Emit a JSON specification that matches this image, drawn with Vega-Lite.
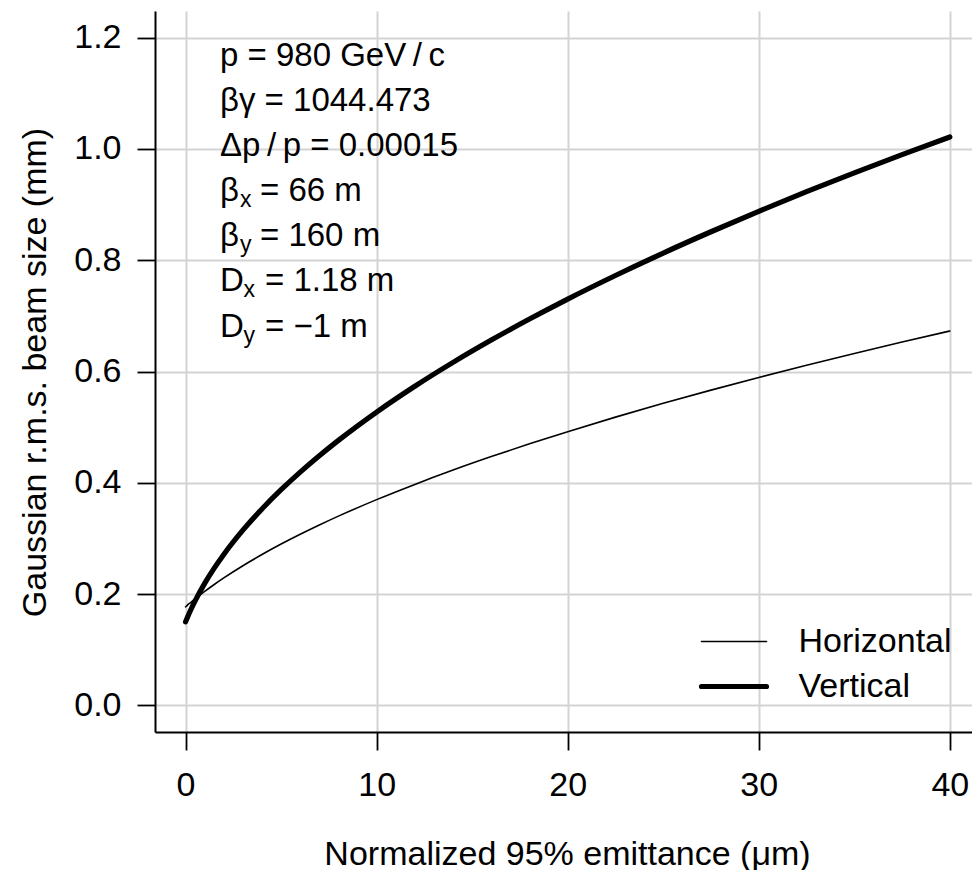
{
  "$schema": "https://vega.github.io/schema/vega-lite/v6.json",
  "autosize": {"type": "none"},
  "padding": {"left": 155, "top": 11, "right": 0, "bottom": 138},
  "width": 817,
  "height": 721,
  "config": {
    "font": "Liberation Sans",
    "view": {"stroke": null},
    "axis": {
      "grid": true,
      "gridColor": "#d3d3d3",
      "gridWidth": 2,
      "domainColor": "black",
      "domainWidth": 2,
      "tickColor": "black",
      "tickWidth": 1.8,
      "tickSize": 18,
      "labelFont": "Liberation Sans",
      "labelFontSize": 34,
      "labelColor": "black",
      "labelFlush": false,
      "labelOverlap": false,
      "titleFont": "Liberation Sans",
      "titleFontSize": 34,
      "titleFontWeight": "normal",
      "titleColor": "black"
    }
  },
  "datasets": {
    "curves": [
      {"e": 0, "s": 0.1770, "series": "Horizontal"},
      {"e": 0.1, "s": 0.1800, "series": "Horizontal"},
      {"e": 0.25, "s": 0.1843, "series": "Horizontal"},
      {"e": 0.5, "s": 0.1913, "series": "Horizontal"},
      {"e": 1, "s": 0.2046, "series": "Horizontal"},
      {"e": 1.5, "s": 0.2171, "series": "Horizontal"},
      {"e": 2, "s": 0.2289, "series": "Horizontal"},
      {"e": 3, "s": 0.2509, "series": "Horizontal"},
      {"e": 4, "s": 0.2710, "series": "Horizontal"},
      {"e": 5, "s": 0.2898, "series": "Horizontal"},
      {"e": 6, "s": 0.3074, "series": "Horizontal"},
      {"e": 7, "s": 0.3241, "series": "Horizontal"},
      {"e": 8, "s": 0.3400, "series": "Horizontal"},
      {"e": 10, "s": 0.3697, "series": "Horizontal"},
      {"e": 12, "s": 0.3971, "series": "Horizontal"},
      {"e": 14, "s": 0.4228, "series": "Horizontal"},
      {"e": 16, "s": 0.4470, "series": "Horizontal"},
      {"e": 18, "s": 0.4700, "series": "Horizontal"},
      {"e": 20, "s": 0.4919, "series": "Horizontal"},
      {"e": 22.5, "s": 0.5180, "series": "Horizontal"},
      {"e": 25, "s": 0.5428, "series": "Horizontal"},
      {"e": 27.5, "s": 0.5665, "series": "Horizontal"},
      {"e": 30, "s": 0.5893, "series": "Horizontal"},
      {"e": 32.5, "s": 0.6113, "series": "Horizontal"},
      {"e": 35, "s": 0.6324, "series": "Horizontal"},
      {"e": 37.5, "s": 0.6529, "series": "Horizontal"},
      {"e": 40, "s": 0.6728, "series": "Horizontal"},
      {"e": 0, "s": 0.1500, "series": "Vertical"},
      {"e": 0.1, "s": 0.1583, "series": "Vertical"},
      {"e": 0.25, "s": 0.1700, "series": "Vertical"},
      {"e": 0.5, "s": 0.1878, "series": "Vertical"},
      {"e": 1, "s": 0.2192, "series": "Vertical"},
      {"e": 1.5, "s": 0.2466, "series": "Vertical"},
      {"e": 2, "s": 0.2712, "series": "Vertical"},
      {"e": 3, "s": 0.3148, "series": "Vertical"},
      {"e": 4, "s": 0.3530, "series": "Vertical"},
      {"e": 5, "s": 0.3875, "series": "Vertical"},
      {"e": 6, "s": 0.4192, "series": "Vertical"},
      {"e": 7, "s": 0.4486, "series": "Vertical"},
      {"e": 8, "s": 0.4762, "series": "Vertical"},
      {"e": 10, "s": 0.5271, "series": "Vertical"},
      {"e": 12, "s": 0.5735, "series": "Vertical"},
      {"e": 14, "s": 0.6164, "series": "Vertical"},
      {"e": 16, "s": 0.6565, "series": "Vertical"},
      {"e": 18, "s": 0.6943, "series": "Vertical"},
      {"e": 20, "s": 0.7302, "series": "Vertical"},
      {"e": 22.5, "s": 0.7726, "series": "Vertical"},
      {"e": 25, "s": 0.8129, "series": "Vertical"},
      {"e": 27.5, "s": 0.8512, "series": "Vertical"},
      {"e": 30, "s": 0.8879, "series": "Vertical"},
      {"e": 32.5, "s": 0.9232, "series": "Vertical"},
      {"e": 35, "s": 0.9571, "series": "Vertical"},
      {"e": 37.5, "s": 0.9899, "series": "Vertical"},
      {"e": 40, "s": 1.0216, "series": "Vertical"}
    ],
    "notes": [
      {"e": 1.8, "s": 1.149, "kind": "plain", "main": "p = 980 GeV\u2009/\u2009c", "sub": "", "rest": ""},
      {"e": 1.8, "s": 1.068, "kind": "plain", "main": "βγ = 1044.473", "sub": "", "rest": ""},
      {"e": 1.8, "s": 0.987, "kind": "plain", "main": "Δp\u2009/\u2009p = 0.00015", "sub": "", "rest": ""},
      {"e": 1.8, "s": 0.906, "kind": "beta", "main": "β", "sub": "x", "rest": "= 66 m"},
      {"e": 1.8, "s": 0.825, "kind": "beta", "main": "β", "sub": "y", "rest": "= 160 m"},
      {"e": 1.8, "s": 0.744, "kind": "D", "main": "D", "sub": "x", "rest": "= 1.18 m"},
      {"e": 1.8, "s": 0.662, "kind": "D", "main": "D", "sub": "y", "rest": "= −1 m"}
    ]
  },
  "layer": [
    {
      "data": {"name": "curves"},
      "mark": {"type": "line", "color": "black", "interpolate": "monotone", "strokeCap": "round", "strokeJoin": "round"},
      "encoding": {
        "x": {
          "field": "e", "type": "quantitative",
          "scale": {"domain": [-1.6, 41.16], "nice": false, "zero": false},
          "axis": {
            "title": "Normalized 95% emittance (μm)",
            "values": [0, 10, 20, 30, 40],
            "format": "d",
            "labelPadding": 18,
            "titleX": 412,
            "titleY": 132,
            "titleBaseline": "alphabetic",
            "titleAlign": "center"
          }
        },
        "y": {
          "field": "s", "type": "quantitative",
          "scale": {"domain": [-0.048, 1.248], "nice": false, "zero": false},
          "axis": {
            "title": "Gaussian r.m.s. beam size (mm)",
            "values": [0, 0.2, 0.4, 0.6, 0.8, 1.0, 1.2],
            "format": ".1f",
            "labelPadding": 16,
            "titleX": -110,
            "titleY": 361,
            "titleAngle": 270,
            "titleBaseline": "alphabetic",
            "titleAlign": "center"
          }
        },
        "strokeWidth": {
          "field": "series", "type": "ordinal",
          "scale": {"domain": ["Horizontal", "Vertical"], "range": [1.6, 5.2]},
          "legend": {
            "title": null,
            "orient": "none",
            "legendX": 543.5,
            "legendY": 608,
            "symbolType": "stroke",
            "symbolSize": 4225,
            "symbolStrokeColor": "black",
            "labelFont": "Liberation Sans",
            "labelFontSize": 34,
            "labelColor": "black",
            "labelOffset": 29,
            "labelLimit": 400,
            "clipHeight": 45,
            "rowPadding": 0,
            "padding": 0,
            "encode": {"symbols": {"update": {"strokeCap": {"value": "round"}}}}
          }
        }
      }
    },
    {
      "mark": {"type": "rule", "color": "black", "strokeWidth": 2},
      "encoding": {"y": {"datum": 1.248}}
    },
    {
      "data": {"name": "notes"},
      "mark": {"type": "text", "align": "left", "baseline": "alphabetic", "fontSize": 33, "font": "Liberation Sans", "color": "black"},
      "encoding": {
        "x": {"field": "e", "type": "quantitative"},
        "y": {"field": "s", "type": "quantitative"},
        "text": {"field": "main"}
      }
    },
    {
      "data": {"name": "notes"},
      "transform": [{"filter": "datum.kind === 'beta'"}],
      "mark": {"type": "text", "align": "left", "baseline": "alphabetic", "fontSize": 23, "font": "Liberation Sans", "color": "black", "dx": 20, "dy": 6},
      "encoding": {
        "x": {"field": "e", "type": "quantitative"},
        "y": {"field": "s", "type": "quantitative"},
        "text": {"field": "sub"}
      }
    },
    {
      "data": {"name": "notes"},
      "transform": [{"filter": "datum.kind === 'beta'"}],
      "mark": {"type": "text", "align": "left", "baseline": "alphabetic", "fontSize": 33, "font": "Liberation Sans", "color": "black", "dx": 40},
      "encoding": {
        "x": {"field": "e", "type": "quantitative"},
        "y": {"field": "s", "type": "quantitative"},
        "text": {"field": "rest"}
      }
    },
    {
      "data": {"name": "notes"},
      "transform": [{"filter": "datum.kind === 'D'"}],
      "mark": {"type": "text", "align": "left", "baseline": "alphabetic", "fontSize": 23, "font": "Liberation Sans", "color": "black", "dx": 23.5, "dy": 6},
      "encoding": {
        "x": {"field": "e", "type": "quantitative"},
        "y": {"field": "s", "type": "quantitative"},
        "text": {"field": "sub"}
      }
    },
    {
      "data": {"name": "notes"},
      "transform": [{"filter": "datum.kind === 'D'"}],
      "mark": {"type": "text", "align": "left", "baseline": "alphabetic", "fontSize": 33, "font": "Liberation Sans", "color": "black", "dx": 45},
      "encoding": {
        "x": {"field": "e", "type": "quantitative"},
        "y": {"field": "s", "type": "quantitative"},
        "text": {"field": "rest"}
      }
    }
  ]
}
